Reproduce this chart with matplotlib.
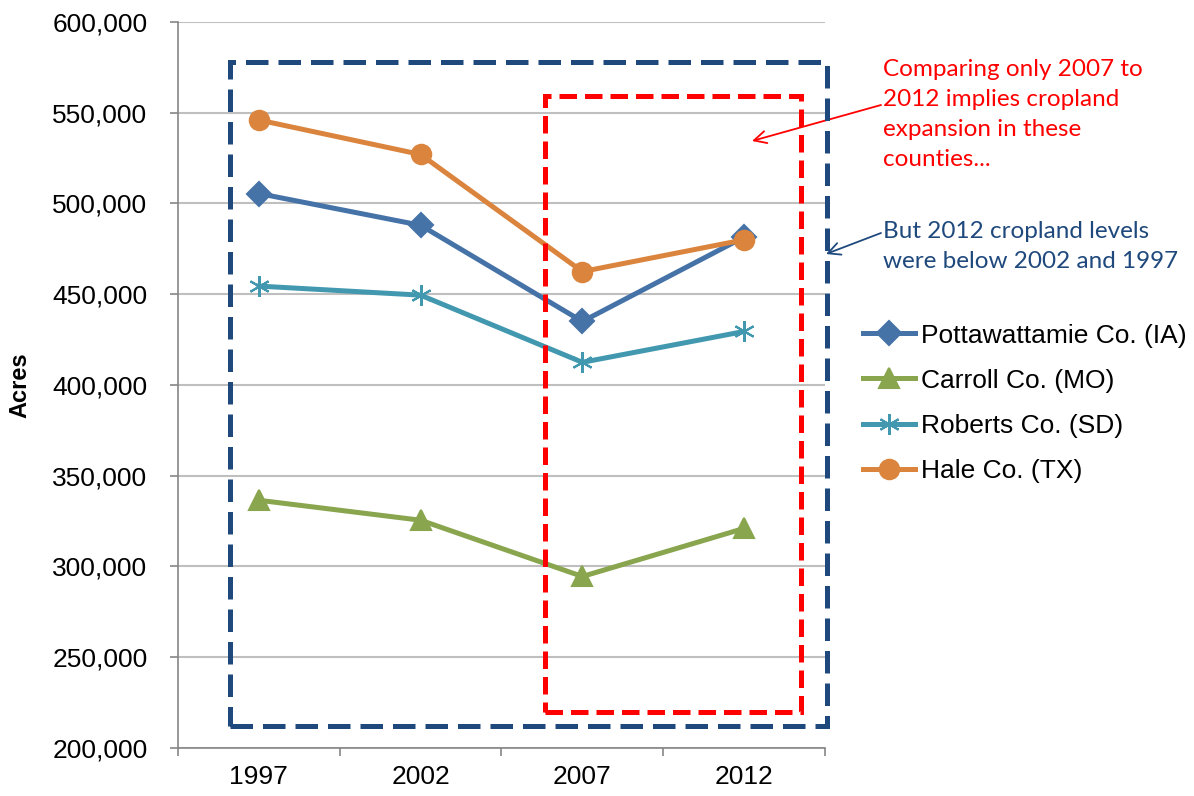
import matplotlib.pyplot as plt
from matplotlib.patches import Rectangle

# data
years = ["1997", "2002", "2007", "2012"]
pottawattamie = [505500, 488000, 435000, 481500]
carroll = [336500, 325500, 294500, 321000]
roberts = [454500, 449500, 412500, 429500]
hale = [546000, 527000, 462500, 480000]

series_names = ["Pottawattamie Co. (IA)", "Carroll Co. (MO)", "Roberts Co. (SD)", "Hale Co. (TX)"]
colors = ["#4572A7", "#89A54E", "#4198AF", "#DB843D"]
markers = ["D", "^", (6, 2, 0), "o"]
msizes = [12, 14, 15, 14]

plt.rcParams["font.family"] = ["Liberation Sans", "DejaVu Sans"]

fig = plt.figure(figsize=(11.94, 7.96), dpi=100)
ax = fig.add_axes([178 / 1194, 48 / 796, 647 / 1194, 726 / 796])

x = list(range(len(years)))
all_vals = [pottawattamie, carroll, roberts, hale]
for vals, name, c, m, ms in zip(all_vals, series_names, colors, markers, msizes):
    ax.plot(x, vals, color=c, lw=3.6, marker=m, markersize=ms,
            markeredgecolor=c, markerfacecolor=c, markeredgewidth=1.5,
            label=name, zorder=3, clip_on=False)

ax.set_xlim(-0.5, 3.5)
ax.set_ylim(200000, 600000)
ax.set_yticks(range(200000, 600001, 50000))
ax.set_yticklabels([f"{v:,}" for v in range(200000, 600001, 50000)], fontsize=19)
ax.set_xticks([-0.5, 0.5, 1.5, 2.5, 3.5])
ax.set_xticklabels([])
ax.set_xticks(x, minor=True)
ax.set_xticklabels(years, minor=True, fontsize=19)
ax.tick_params(axis="x", which="minor", length=0, pad=12)
ax.tick_params(axis="x", which="major", length=6, color="#868686", width=1.2)
ax.tick_params(axis="y", length=6, color="#868686", width=1.2, pad=16)

ax.grid(axis="y", color="#BFBFBF", lw=1.5, zorder=0)
for s in ["top", "right"]:
    ax.spines[s].set_visible(False)
for s in ["left", "bottom"]:
    ax.spines[s].set_color("#868686")
    ax.spines[s].set_linewidth(1.2)

fig.text(20 / 1194, 1 - 385 / 796, "Acres", rotation=90, fontsize=17,
         fontweight="bold", ha="center", va="center")

# dashed highlight boxes
blue_box = Rectangle((0.080, 0.030), 0.923, 0.915, transform=ax.transAxes,
                     fill=False, ec="#1F497D", lw=3.6, ls=(0, (4.5, 2)),
                     clip_on=False, zorder=4)
red_box = Rectangle((0.567, 0.0496), 0.396, 0.849, transform=ax.transAxes,
                    fill=False, ec="#FF0000", lw=3.6, ls=(0, (3.5, 1.6)),
                    clip_on=False, zorder=4)
ax.add_patch(blue_box)
ax.add_patch(red_box)

leg = fig.legend(loc="upper left", bbox_to_anchor=(852 / 1194, 1 - 313 / 796),
                 frameon=False, fontsize=19, handlelength=2.0, handletextpad=0.2,
                 labelspacing=0.8, borderaxespad=0)

fig.text(883 / 1194, 1 - 59 / 796,
         "Comparing only 2007 to\n2012 implies cropland\nexpansion in these\ncounties...",
         color="#FF0000", fontsize=17.5, family=["Lato", "DejaVu Sans"],
         va="top", ha="left", linespacing=1.53)
fig.text(883 / 1194, 1 - 221 / 796,
         "But 2012 cropland levels\nwere below 2002 and 1997",
         color="#1F497D", fontsize=17.5, family=["Lato", "DejaVu Sans"],
         va="top", ha="left", linespacing=1.53)

ax.annotate("", xy=(752 / 1194, 1 - 141 / 796), xytext=(881 / 1194, 1 - 105 / 796),
            xycoords="figure fraction", textcoords="figure fraction",
            arrowprops=dict(arrowstyle="->", color="#FF0000", lw=1.3,
                            mutation_scale=22, shrinkA=0, shrinkB=0))
ax.annotate("", xy=(826 / 1194, 1 - 254 / 796), xytext=(881 / 1194, 1 - 233 / 796),
            xycoords="figure fraction", textcoords="figure fraction",
            arrowprops=dict(arrowstyle="->", color="#1F497D", lw=1.3,
                            mutation_scale=22, shrinkA=0, shrinkB=0))

fig.savefig("out.png", dpi=100)
